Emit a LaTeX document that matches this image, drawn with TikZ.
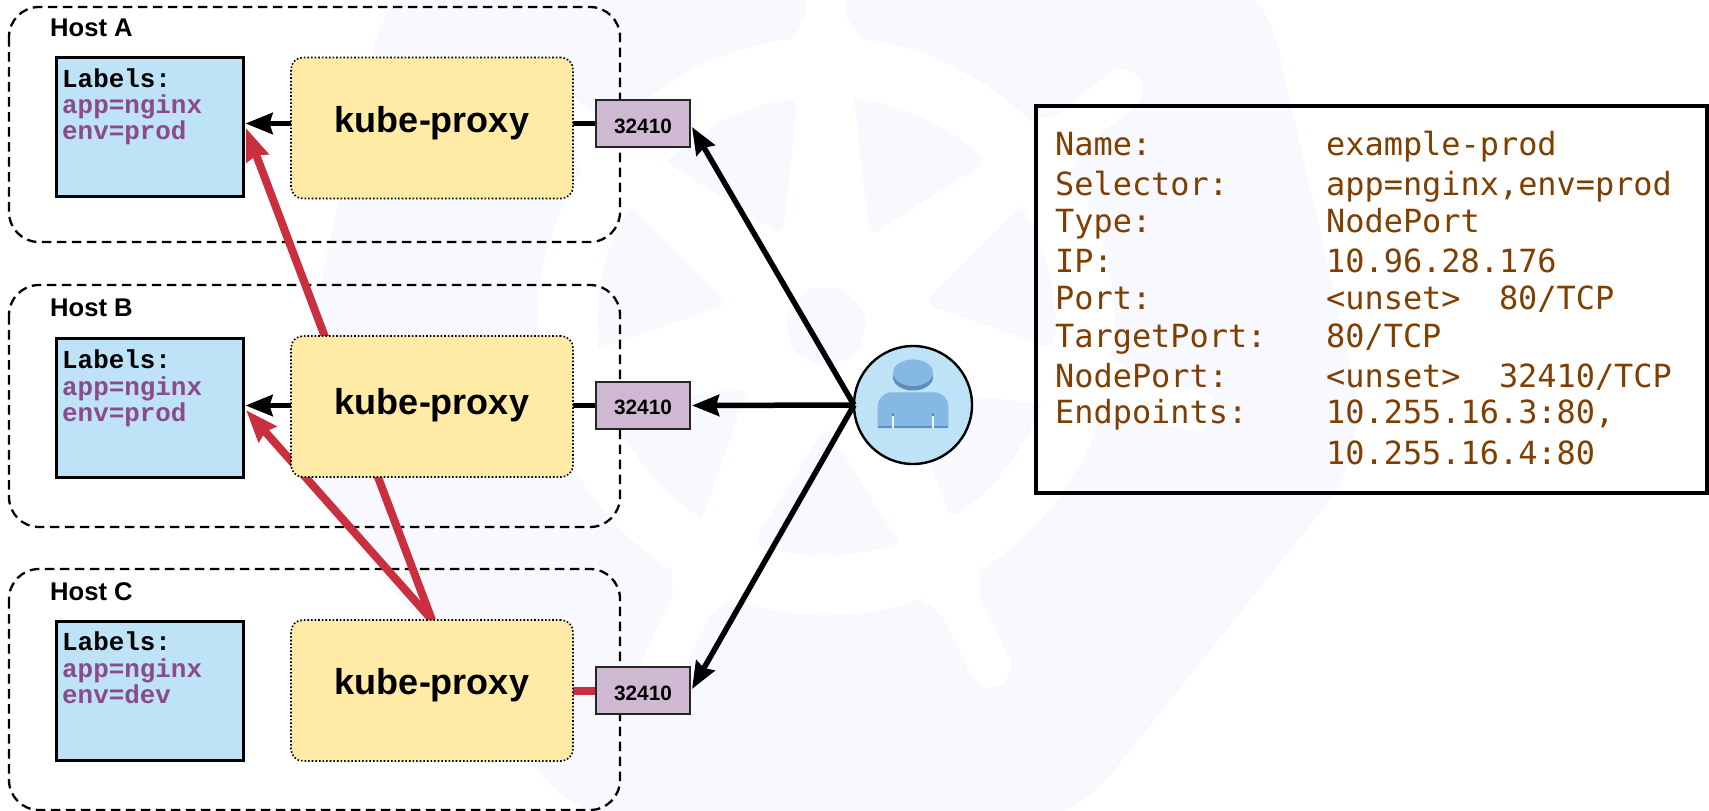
\documentclass[tikz,border=0pt]{standalone}
\usepackage{fontspec}
\usetikzlibrary{arrows.meta,calc}
\setmainfont{Liberation Sans}
\newfontfamily\lblmono{Liberation Mono}
\newfontfamily\infomono{DejaVu Sans Mono}
\definecolor{wm}{HTML}{F8F9FE}
\definecolor{lblblue}{HTML}{BEE3F6}
\definecolor{proxyy}{HTML}{FFEBA6}
\definecolor{portp}{HTML}{CFB9D2}
\definecolor{lblpurple}{HTML}{8A4A8C}
\definecolor{redl}{HTML}{C92F3F}
\definecolor{brownt}{HTML}{7F3F00}
\definecolor{iconb}{HTML}{85B9E3}
\definecolor{icond}{HTML}{5F8DB5}
\pgfdeclarelayer{wmk}
\pgfdeclarelayer{bg}
\pgfsetlayers{wmk,bg,main}
\tikzset{
  hostbox/.style={draw=black,line width=2.3pt,dash pattern=on 9.5pt off 5.5pt,rounded corners=30pt},
  lblbox/.style={draw=black,line width=3pt,fill=lblblue,minimum width=187pt,minimum height=139pt,inner sep=0pt,outer sep=0pt},
  proxybox/.style={draw=black,line width=1.6pt,dotted,fill=proxyy,rounded corners=12pt,minimum width=282pt,minimum height=141pt,inner sep=0pt,outer sep=0pt},
  portbox/.style={draw=black!85,line width=2.6pt,fill=portp,minimum width=94pt,minimum height=47pt,inner sep=0pt,outer sep=0pt},
  hosttxt/.style={anchor=base west,inner sep=0pt,font=\bfseries\fontsize{25.6}{26}\selectfont},
  proxytxt/.style={anchor=base,inner sep=0pt,font=\bfseries\fontsize{36}{36}\selectfont},
  porttxt/.style={anchor=base,inner sep=0pt,font=\bfseries\fontsize{20.8}{21}\selectfont},
  lbl/.style={anchor=base west,inner sep=0pt,font=\lblmono\bfseries\fontsize{25.9}{26}\selectfont},
  lblv/.style={lbl,text=lblpurple},
  info/.style={anchor=base west,inner sep=0pt,text=brownt,font=\infomono\fontsize{31.9}{32}\selectfont},
  blackline/.style={line width=5.5pt,draw=black},
  blackarrow/.style={blackline,-{Stealth[length=27pt,width=21pt,inset=3pt]}},
  redline/.style={line width=8pt,draw=redl},
  redarrow/.style={redline,-{Stealth[length=32pt,width=23pt,inset=3pt]}}
}
\begin{document}
\begin{tikzpicture}[x=1pt,y=-1pt]
\useasboundingbox (0,0) rectangle (1709,811);
% watermark
\begin{pgfonlayer}{wmk}
\begin{scope}
\clip (0,0) rectangle (1709,811);
\begin{scope}[shift={(826,326)}]
\fill[wm,rounded corners=70pt] (90:558pt) -- (38.57:558pt) -- (-12.86:558pt) -- (-64.29:558pt) -- (-115.71:558pt) -- (-167.14:558pt) -- (141.43:558pt) -- cycle;
\fill[white] (0,0) circle[radius=289pt];
\foreach \a in {90,38.57,-12.86,-64.29,-115.71,-167.14,141.43}{
  \draw[white,line width=42pt,line cap=round] (\a:280pt) -- (\a:378pt);
  \fill[white] ($(\a:285pt)+(\a+90:34pt)$) -- ($(\a:312pt)+(\a+90:20pt)$) -- ($(\a:312pt)+(\a-90:20pt)$) -- ($(\a:285pt)+(\a-90:34pt)$) -- cycle;
}
\foreach \m in {64.29,12.86,-38.57,-90,-141.43,167.14,115.71}{
  \fill[wm,rounded corners=10pt] (\m:100pt) -- ({\m-18.6}:229pt)
    [sharp corners] arc[start angle={\m-18.6},end angle={\m+18.6},radius=229pt] [rounded corners=10pt] -- cycle;
}
\fill[wm,rounded corners=8pt] (-90:42pt) -- (-38.57:42pt) -- (12.86:42pt) -- (64.29:42pt) -- (115.71:42pt) -- (167.14:42pt) -- (-141.43:42pt) -- cycle;
\end{scope}
\end{scope}
\end{pgfonlayer}
% hosts
\begin{pgfonlayer}{bg}
\draw[hostbox] (9,7) rectangle (620,242);
\draw[hostbox] (9,285) rectangle (620,527);
\draw[hostbox] (9,569) rectangle (620,810);
\end{pgfonlayer}
\node[hosttxt] (hostA) at (50,36.7) {Host A};
\node[hosttxt] (hostB) at (50,316.7) {Host B};
\node[hosttxt] (hostC) at (50,600) {Host C};
% labels
\node[lblbox] (labelsA) at (149.5,126.5) {};
\node[lblbox] (labelsB) at (149.5,407.5) {};
\node[lblbox] (labelsC) at (149.5,690.5) {};
\node[lbl] (la1) at (62,87) {Labels:};
\node[lblv] (la2) at (62,113.7) {app=nginx};
\node[lblv] (la3) at (62,139) {env=prod};
\node[lbl] (lb1) at (62,368) {Labels:};
\node[lblv] (lb2) at (62,395.7) {app=nginx};
\node[lblv] (lb3) at (62,421.5) {env=prod};
\node[lbl] (lc1) at (62,650.7) {Labels:};
\node[lblv] (lc2) at (62,677.5) {app=nginx};
\node[lblv] (lc3) at (62,703.5) {env=dev};
% proxies
\node[proxybox] (proxyA) at (432,128) {};
\node[proxybox] (proxyB) at (432,406.5) {};
\node[proxybox] (proxyC) at (432,690.5) {};
\node[proxytxt] (pa) at (432,132.5) {kube-proxy};
\node[proxytxt] (pb) at (432,414) {kube-proxy};
\node[proxytxt] (pc) at (432,694) {kube-proxy};
% ports
\node[portbox] (portA) at (643,123.5) {};
\node[portbox] (portB) at (643,405.5) {};
\node[portbox] (portC) at (643,690.5) {};
\node[porttxt] (pta) at (643,133) {32410};
\node[porttxt] (ptb) at (643,414.5) {32410};
\node[porttxt] (ptc) at (643,700) {32410};
% user
\node[circle,draw=black,line width=2.4pt,fill=lblblue,minimum size=118pt,inner sep=0pt,outer sep=0pt] (user) at (913,405) {};
\fill[icond] (913,377.2) ellipse[x radius=20pt,y radius=13.3pt];
\fill[iconb] (913,372.7) ellipse[x radius=20pt,y radius=13.3pt];
\fill[iconb] (877.7,428) -- (877.7,408) [rounded corners=14pt] -- (877.7,392.3) -- (948.3,392.3) [sharp corners] -- (948.3,428) -- cycle;
\fill[icond] (877.7,425.8) rectangle (948.3,428.3);
\fill[icond] (892,413) rectangle (894,416);
\fill[icond] (932,413) rectangle (934,416);
\fill[white!70!lblblue] (892.3,416) rectangle (893.8,428.3);
\fill[white!70!lblblue] (932.2,416) rectangle (933.7,428.3);
% info box
\node[draw=black,line width=4pt,minimum width=671.5pt,minimum height=387pt,inner sep=0pt,outer sep=0pt] (infobox) at (1371.25,299.5) {};
\node[info] (i1) at (1055,155) {Name:};
\node[info] (v1) at (1326,155) {example-prod};
\node[info] (i2) at (1055,195) {Selector:};
\node[info] (v2) at (1326,195) {app=nginx,env=prod};
\node[info] (i3) at (1055,232) {Type:};
\node[info] (v3) at (1326,232) {NodePort};
\node[info] (i4) at (1055,272) {IP:};
\node[info] (v4) at (1326,272) {10.96.28.176};
\node[info] (i5) at (1055,309) {Port:};
\node[info] (v5) at (1326,309) {<unset>\hspace{38.4pt}80/TCP};
\node[info] (i6) at (1055,347) {TargetPort:};
\node[info] (v6) at (1326,347) {80/TCP};
\node[info] (i7) at (1055,387) {NodePort:};
\node[info] (v7) at (1326,387) {<unset>\hspace{38.4pt}32410/TCP};
\node[info] (i8) at (1055,423) {Endpoints:};
\node[info] (v8) at (1326,423) {10.255.16.3:80,};
\node[info] (v9) at (1326,464) {10.255.16.4:80};
% connector targets
\coordinate (tipA) at (692,127);
\coordinate (tipB) at (692,405.5);
\coordinate (tipC) at (692,689);
\coordinate (redA) at (246,128);
\coordinate (redB) at (246,410);
\begin{pgfonlayer}{bg}
\draw[blackline] (proxyA.east |- portA.west) -- (portA.west);
\draw[blackline] (proxyB.east |- portB.west) -- (portB.west);
\draw[redline] (proxyC.east |- portC.west) -- (portC.west);
\draw[blackarrow,shorten >=2.5pt] (proxyA.west |- portA.west) -- (labelsA.east |- portA.west);
\draw[blackarrow,shorten >=2.5pt] (proxyB.west |- portB.west) -- (labelsB.east |- portB.west);
\draw[redarrow] (proxyC.north) -- (redA);
\draw[redarrow] (proxyC.north) -- (redB);
\end{pgfonlayer}
\draw[blackarrow] (user.west) -- (tipA);
\draw[blackarrow] (user.west) -- (tipB);
\draw[blackarrow] (user.west) -- (tipC);
\end{tikzpicture}
\end{document}
